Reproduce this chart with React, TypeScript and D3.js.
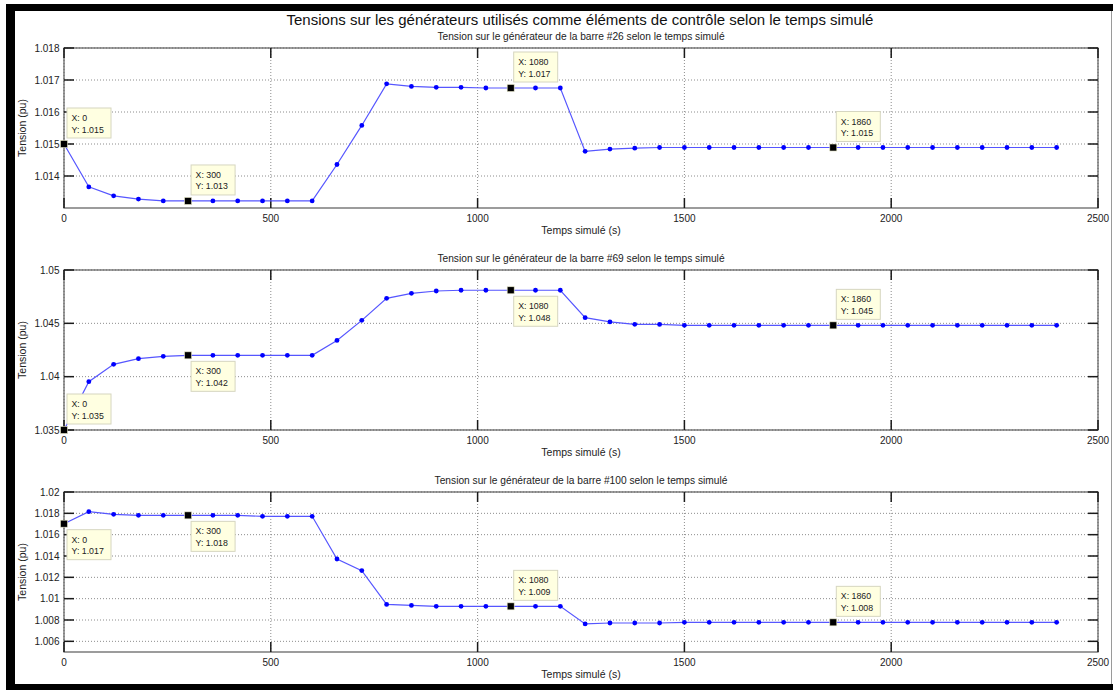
import React from "react";
import * as d3 from "d3";

// Simulated time (s), one sample per minute
const temps = [
  0, 60, 120, 180, 240, 300, 360, 420, 480, 540, 600, 660, 720, 780, 840, 900,
  960, 1020, 1080, 1140, 1200, 1260, 1320, 1380, 1440, 1500, 1560, 1620, 1680,
  1740, 1800, 1860, 1920, 1980, 2040, 2100, 2160, 2220, 2280, 2340, 2400,
];

// Generator voltages (pu)
const barre26 = [
  1.015, 1.01366, 1.01338, 1.01328, 1.01322, 1.01322, 1.01322, 1.01322, 1.01322,
  1.01322, 1.01322, 1.01436, 1.01558, 1.01688, 1.0168, 1.01677, 1.01677, 1.01675,
  1.01675, 1.01675, 1.01675, 1.01477, 1.01484, 1.01487, 1.01489, 1.01489, 1.01489,
  1.01489, 1.01489, 1.01489, 1.01489, 1.01489, 1.01489, 1.01489, 1.01489, 1.01489,
  1.01489, 1.01489, 1.01489, 1.01489, 1.01489,
];

const barre69 = [
  1.035, 1.03953, 1.04116, 1.04169, 1.04191, 1.042, 1.042, 1.042, 1.042, 1.042,
  1.042, 1.0434, 1.04528, 1.04734, 1.04781, 1.04803, 1.0481, 1.0481, 1.0481,
  1.0481, 1.0481, 1.04553, 1.04513, 1.04491, 1.0449, 1.04481, 1.04481, 1.04481,
  1.04481, 1.04481, 1.04481, 1.04481, 1.04481, 1.04481, 1.04481, 1.04481, 1.04481,
  1.04481, 1.04481, 1.04481, 1.04481,
];

const barre100 = [
  1.01703, 1.01816, 1.01791, 1.01781, 1.01781, 1.01781, 1.01781, 1.01781, 1.01772,
  1.01772, 1.01772, 1.01372, 1.01263, 1.00946, 1.00937, 1.00928, 1.00928, 1.00928,
  1.00928, 1.00928, 1.00928, 1.00763, 1.00772, 1.00772, 1.00772, 1.00778, 1.00778,
  1.00778, 1.00778, 1.00778, 1.00778, 1.00778, 1.00778, 1.00778, 1.00778, 1.00778,
  1.00778, 1.00778, 1.00778, 1.00778, 1.00778,
];

// Axis ticks and limits
const timeTicks = [0, 500, 1000, 1500, 2000, 2500];
const timeDomain = [0, 2500];
const ticks26 = [1.014, 1.015, 1.016, 1.017, 1.018];
const ticks69 = [1.035, 1.04, 1.045, 1.05];
const ticks100 = [1.006, 1.008, 1.01, 1.012, 1.014, 1.016, 1.018, 1.02];
const domain26 = [1.013, 1.018];
const domain69 = [1.035, 1.05];
const domain100 = [1.005, 1.02];

// Data cursors shown on every panel
const tipTimes = [0, 300, 1080, 1860];
const tipSides26 = ["up", "up", "up", "up"];
const tipSides69 = ["up", "down", "down", "up"];
const tipSides100 = ["down", "down", "up", "up"];

const mainTitle =
  "Tensions sur les générateurs utilisés comme éléments de contrôle selon le temps simulé";
const xLabel = "Temps simulé (s)";
const yLabel = "Tension (pu)";

const panels = [
  {
    title: "Tension sur le générateur de la barre #26 selon le temps simulé",
    values: barre26,
    domain: domain26,
    ticks: ticks26,
    sides: tipSides26,
  },
  {
    title: "Tension sur le générateur de la barre #69 selon le temps simulé",
    values: barre69,
    domain: domain69,
    ticks: ticks69,
    sides: tipSides69,
  },
  {
    title: "Tension sur le générateur de la barre #100 selon le temps simulé",
    values: barre100,
    domain: domain100,
    ticks: ticks100,
    sides: tipSides100,
  },
];

const W = 1113;
const H = 690;
const LEFT = 64;
const RIGHT = 1098;
const TOPS = [48, 270, 492];
const PLOT_H = 160;
const TICK_LEN = 10;
const FONT = "'Liberation Sans', Arial, Helvetica, sans-serif";

const fmtY = d3.format(".4r");

function Panel({ p, top }: { p: (typeof panels)[number]; top: number }) {
  const x = d3.scaleLinear().domain(timeDomain).range([LEFT, RIGHT]);
  const y = d3.scaleLinear().domain(p.domain).range([top + PLOT_H, top]);
  const bottom = top + PLOT_H;
  const line = d3
    .line<number>()
    .x((_, i) => x(temps[i]))
    .y((d) => y(d));
  const midX = (LEFT + RIGHT) / 2;

  return (
    <g>
      {/* dotted grid */}
      {timeTicks.map((t) => (
        <line
          key={"gx" + t}
          x1={x(t)}
          x2={x(t)}
          y1={top}
          y2={bottom}
          stroke="#8c8c8c"
          strokeWidth={1}
          strokeDasharray="1,2"
        />
      ))}
      {p.ticks.map((v) => (
        <line
          key={"gy" + v}
          x1={LEFT}
          x2={RIGHT}
          y1={y(v)}
          y2={y(v)}
          stroke="#8c8c8c"
          strokeWidth={1}
          strokeDasharray="1,2"
        />
      ))}
      {/* axes box */}
      <rect
        x={LEFT}
        y={top}
        width={RIGHT - LEFT}
        height={PLOT_H}
        fill="none"
        stroke="#5a5a5a"
        strokeWidth={1.2}
      />
      {/* inward ticks on all four sides */}
      {timeTicks.map((t) => (
        <g key={"tx" + t} stroke="#1a1a1a" strokeWidth={1.5}>
          <line x1={x(t)} x2={x(t)} y1={bottom} y2={bottom - TICK_LEN} />
          <line x1={x(t)} x2={x(t)} y1={top} y2={top + TICK_LEN} />
        </g>
      ))}
      {p.ticks.map((v) => (
        <g key={"ty" + v} stroke="#1a1a1a" strokeWidth={1.5}>
          <line x1={LEFT} x2={LEFT + TICK_LEN} y1={y(v)} y2={y(v)} />
          <line x1={RIGHT} x2={RIGHT - TICK_LEN} y1={y(v)} y2={y(v)} />
        </g>
      ))}
      {/* tick labels */}
      {timeTicks.map((t) => (
        <text
          key={"lx" + t}
          x={x(t)}
          y={bottom + 13.5}
          textAnchor="middle"
          fontSize={10}
          fill="#222"
        >
          {t}
        </text>
      ))}
      {p.ticks.map((v) => (
        <text
          key={"ly" + v}
          x={LEFT - 4.5}
          y={y(v) + 3.5}
          textAnchor="end"
          fontSize={10}
          fill="#222"
        >
          {String(v)}
        </text>
      ))}
      {/* axis labels and panel title */}
      <text x={midX} y={bottom + 26} textAnchor="middle" fontSize={10.5} fill="#222">
        {xLabel}
      </text>
      <text
        transform={`translate(26,${top + PLOT_H / 2}) rotate(-90)`}
        textAnchor="middle"
        fontSize={10.5}
        fill="#222"
      >
        {yLabel}
      </text>
      <text x={midX} y={top - 8} textAnchor="middle" fontSize={10.2} fill="#222">
        {p.title}
      </text>
      {/* series */}
      <path d={line(p.values) ?? ""} fill="none" stroke="#5656ff" strokeWidth={1.2} />
      {p.values.map((v, i) => (
        <circle key={"m" + i} cx={x(temps[i])} cy={y(v)} r={2.4} fill="#0000ff" />
      ))}
      {/* data cursors */}
      {tipTimes.map((t, k) => {
        const i = temps.indexOf(t);
        const v = p.values[i];
        const px = x(t);
        const py = y(v);
        const bw = 44;
        const bh = 30;
        const bx = px + 3;
        const by = p.sides[k] === "up" ? py - 6 - bh : py + 6;
        return (
          <g key={"tip" + t}>
            <rect x={px - 3.5} y={py - 3.5} width={7} height={7} fill="#000" stroke="#e8e8c8" strokeWidth={0.6} />
            <rect x={bx} y={by} width={bw} height={bh} fill="#ffffe1" stroke="#d6d6c0" strokeWidth={1} />
            <text x={bx + 4.5} y={by + 13} fontSize={8.8} fill="#222">
              {"X: " + t}
            </text>
            <text x={bx + 4.5} y={by + 24.5} fontSize={8.8} fill="#222">
              {"Y: " + fmtY(v)}
            </text>
          </g>
        );
      })}
    </g>
  );
}

export default function App() {
  return (
    <svg
      width={W}
      height={H}
      viewBox={`0 0 ${W} ${H}`}
      style={{ position: "absolute", left: 0, top: 0, display: "block", background: "#fff" }}
      fontFamily={FONT}
    >
      <rect x={0} y={0} width={W} height={H} fill="#fff" />
      {/* window frame */}
      <rect x={6} y={4} width={W - 6} height={7} fill="#000" />
      <rect x={6} y={4} width={9} height={H - 4} fill="#000" />
      <rect x={6} y={684} width={W - 6} height={H - 684} fill="#000" />
      <line x1={1111.5} x2={1111.5} y1={11} y2={684} stroke="#9a9a9a" strokeWidth={1} />
      <text x={580} y={25} textAnchor="middle" fontSize={15} fill="#111">
        {mainTitle}
      </text>
      {panels.map((p, i) => (
        <Panel key={i} p={p} top={TOPS[i]} />
      ))}
    </svg>
  );
}
